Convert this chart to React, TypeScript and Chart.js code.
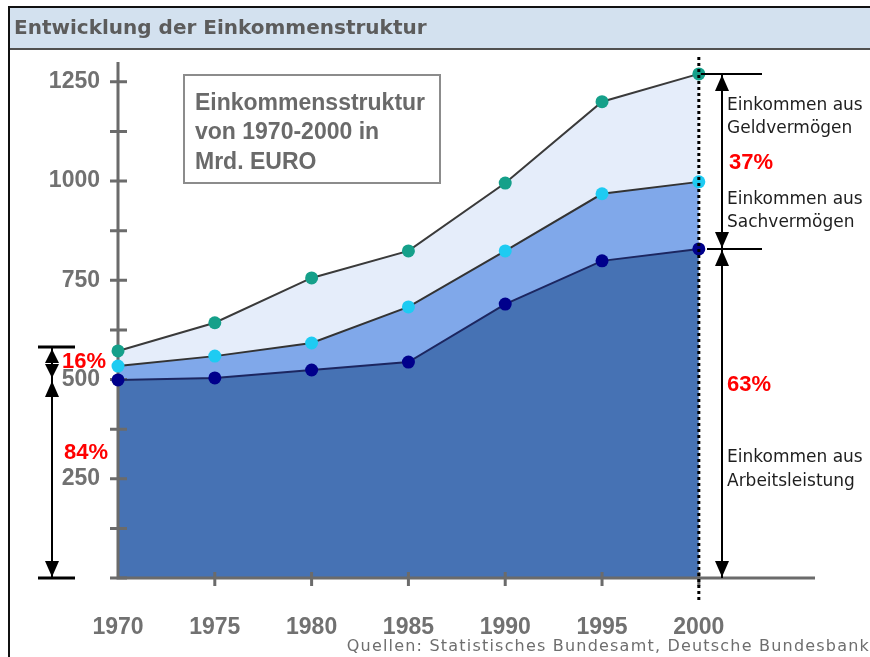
import { useEffect, useRef } from 'react';
import { Chart, registerables } from 'chart.js';

Chart.register(...registerables);

// ---- data (cumulative levels in Mrd. EURO) ----
const years = [1970, 1975, 1980, 1985, 1990, 1995, 2000];
const arbeitsleistung = [499, 504, 524, 544, 690, 799, 829];
const plusSachvermoegen = [534, 559, 592, 683, 824, 968, 998];
const plusGeldvermoegen = [572, 643, 756, 824, 995, 1200, 1270];
const yTickValues = [0, 250, 500, 750, 1000, 1250];
const yMinorStep = 125;
const leftShares = ['16%', '84%'];
const rightShares = ['37%', '63%'];
const titleText = 'Entwicklung der Einkommenstruktur';
const boxLines = ['Einkommensstruktur', 'von 1970-2000 in', 'Mrd. EURO'];
const sourceText = 'Quellen: Statistisches Bundesamt, Deutsche Bundesbank';
const rightLabels = [
  ['Einkommen aus', 'Geldvermögen'],
  ['Einkommen aus', 'Sachvermögen'],
  ['Einkommen aus', 'Arbeitsleistung'],
];

const AXIS_COLOR = '#6b6b6b';
const LABEL_COLOR = '#717171';

function arrowHead(ctx: CanvasRenderingContext2D, x: number, tipY: number, dir: number, h = 16, hw = 7) {
  ctx.beginPath();
  ctx.moveTo(x, tipY);
  ctx.lineTo(x - hw, tipY - dir * h);
  ctx.lineTo(x + hw, tipY - dir * h);
  ctx.closePath();
  ctx.fill();
}

const decorPlugin = {
  id: 'decor',
  beforeDraw(chart: any) {
    const ctx: CanvasRenderingContext2D = chart.ctx;
    ctx.save();
    ctx.fillStyle = '#ffffff';
    ctx.fillRect(0, 0, chart.width, chart.height);
    // title bar
    ctx.fillStyle = '#d3e1ef';
    ctx.fillRect(9, 8, chart.width - 9, 40);
    ctx.fillStyle = '#111111';
    ctx.fillRect(8, 6, chart.width - 8, 2);
    ctx.fillRect(8, 6, 2, chart.height - 6);
    ctx.fillStyle = '#505050';
    ctx.fillRect(10, 48, chart.width - 10, 2);
    ctx.fillStyle = '#5c5c5c';
    ctx.font = 'bold 20px "DejaVu Sans"';
    ctx.textAlign = 'left';
    ctx.textBaseline = 'middle';
    ctx.fillText(titleText, 14, 29);
    // info box
    ctx.strokeStyle = '#8c8c8c';
    ctx.lineWidth = 2;
    ctx.strokeRect(184, 75, 256, 108);
    ctx.fillStyle = '#6a6a6a';
    ctx.font = 'bold 23px "Liberation Sans", Arial, sans-serif';
    const ys = [104, 133, 163];
    boxLines.forEach((t, i) => ctx.fillText(t, 195, ys[i]));
    ctx.restore();
  },
  beforeDatasetsDraw(chart: any) {
    const ctx: CanvasRenderingContext2D = chart.ctx;
    const xs = chart.scales.x;
    const ysc = chart.scales.y;
    const { left, right, top, bottom } = chart.chartArea;
    ctx.save();
    ctx.strokeStyle = AXIS_COLOR;
    ctx.lineWidth = 3;
    ctx.beginPath();
    ctx.moveTo(left, top);
    ctx.lineTo(left, bottom + 1.5);
    ctx.moveTo(left - 1.5, bottom);
    ctx.lineTo(right, bottom);
    ctx.stroke();
    ctx.beginPath();
    for (let v = 0; v <= yTickValues[yTickValues.length - 1]; v += yMinorStep) {
      const py = ysc.getPixelForValue(v);
      ctx.moveTo(left - 8, py);
      ctx.lineTo(left + 9, py);
    }
    years.slice(1).forEach((yr) => {
      const px = xs.getPixelForValue(yr);
      ctx.moveTo(px, bottom - 6);
      ctx.lineTo(px, bottom + 8);
    });
    ctx.stroke();
    ctx.restore();
  },
  afterDatasetsDraw(chart: any) {
    const ctx: CanvasRenderingContext2D = chart.ctx;
    const xs = chart.scales.x;
    const px = xs.getPixelForValue(years[years.length - 1]);
    ctx.save();
    ctx.strokeStyle = '#000000';
    ctx.lineWidth = 3;
    ctx.setLineDash([3, 3]);
    ctx.beginPath();
    ctx.moveTo(px, 57);
    ctx.lineTo(px, 600);
    ctx.stroke();
    ctx.restore();
  },
  afterDraw(chart: any) {
    const ctx: CanvasRenderingContext2D = chart.ctx;
    const xs = chart.scales.x;
    const ysc = chart.scales.y;
    const last = years.length - 1;
    const x2000 = xs.getPixelForValue(years[last]);
    const yTopR = ysc.getPixelForValue(plusGeldvermoegen[last]);
    const yMidR = ysc.getPixelForValue(arbeitsleistung[last]);
    const yZero = ysc.getPixelForValue(0);
    const yTopL = ysc.getPixelForValue(plusGeldvermoegen[0]) - 4;
    const yMidL = ysc.getPixelForValue(arbeitsleistung[0]);
    ctx.save();
    ctx.strokeStyle = '#000000';
    ctx.fillStyle = '#000000';
    // right bracket
    const xr = 722;
    ctx.lineWidth = 2;
    ctx.beginPath();
    ctx.moveTo(x2000 + 2, yTopR);
    ctx.lineTo(762, yTopR);
    ctx.moveTo(707, yMidR);
    ctx.lineTo(762, yMidR);
    ctx.moveTo(xr, yTopR);
    ctx.lineTo(xr, yZero);
    ctx.stroke();
    arrowHead(ctx, xr, yTopR + 1, -1);
    arrowHead(ctx, xr, yMidR - 1, 1);
    arrowHead(ctx, xr, yMidR + 1, -1);
    arrowHead(ctx, xr, yZero - 1, 1);
    // left bracket
    const xl = 52;
    ctx.lineWidth = 3;
    ctx.beginPath();
    ctx.moveTo(38, yTopL);
    ctx.lineTo(75, yTopL);
    ctx.moveTo(38, yZero);
    ctx.lineTo(75, yZero);
    ctx.stroke();
    ctx.lineWidth = 2;
    ctx.beginPath();
    ctx.moveTo(xl, yTopL);
    ctx.lineTo(xl, yZero);
    ctx.stroke();
    arrowHead(ctx, xl, yTopL + 2, -1, 14);
    arrowHead(ctx, xl, yMidL - 2, 1, 14);
    arrowHead(ctx, xl, yMidL + 1, -1, 16);
    arrowHead(ctx, xl, yZero - 1, 1, 16);
    // percentages
    ctx.fillStyle = '#ff0000';
    ctx.font = 'bold 22px "Liberation Sans", Arial, sans-serif';
    ctx.textAlign = 'left';
    ctx.textBaseline = 'middle';
    ctx.fillText(leftShares[0], 62, 362);
    ctx.fillText(leftShares[1], 64, 453);
    ctx.fillText(rightShares[0], 729, 163);
    ctx.fillText(rightShares[1], 727, 385);
    // right labels
    ctx.fillStyle = '#1e1e1e';
    ctx.font = '17px "DejaVu Sans", sans-serif';
    const labelY = [[106, 129], [200, 223], [458, 482]];
    rightLabels.forEach((pair, i) => {
      pair.forEach((t, j) => ctx.fillText(t, 727, labelY[i][j]));
    });
    // source
    ctx.fillStyle = '#6e6e6e';
    ctx.font = '16px "DejaVu Sans", sans-serif';
    (ctx as any).letterSpacing = '1.2px';
    ctx.textAlign = 'right';
    ctx.fillText(sourceText, 870, 647);
    ctx.restore();
  },
};

export default function App() {
  const canvasRef = useRef<HTMLCanvasElement | null>(null);

  useEffect(() => {
    const canvas = canvasRef.current;
    if (!canvas) return;
    const toPoints = (arr: number[]) => years.map((yr, i) => ({ x: yr, y: arr[i] }));
    const chart = new Chart(canvas, {
      type: 'line',
      data: {
        datasets: [
          {
            label: 'Einkommen aus Arbeitsleistung',
            data: toPoints(arbeitsleistung),
            borderColor: '#1c2660',
            borderWidth: 2,
            backgroundColor: '#4672b4',
            fill: 'origin',
            pointRadius: 6.5,
            pointBackgroundColor: '#00008b',
            pointBorderWidth: 0,
            tension: 0,
            clip: false as any,
          },
          {
            label: 'Einkommen aus Sachvermögen',
            data: toPoints(plusSachvermoegen),
            borderColor: '#333333',
            borderWidth: 2,
            backgroundColor: '#80a8ea',
            fill: '-1',
            pointRadius: 6.5,
            pointBackgroundColor: '#1ecbf2',
            pointBorderWidth: 0,
            tension: 0,
            clip: false as any,
          },
          {
            label: 'Einkommen aus Geldvermögen',
            data: toPoints(plusGeldvermoegen),
            borderColor: '#3a3a3a',
            borderWidth: 2,
            backgroundColor: '#e5edfa',
            fill: '-1',
            pointRadius: 6.5,
            pointBackgroundColor: '#15a08a',
            pointBorderWidth: 0,
            tension: 0,
            clip: false as any,
          },
        ],
      },
      options: {
        animation: false,
        responsive: false,
        maintainAspectRatio: false,
        devicePixelRatio: 1,
        layout: { padding: { top: 62, right: 55, left: 0, bottom: 0 } },
        plugins: {
          legend: { display: false },
          tooltip: { enabled: false },
          filler: { drawTime: 'beforeDatasetsDraw' } as any,
        },
        scales: {
          x: {
            type: 'linear',
            min: 1970,
            max: 2006,
            grid: { display: false, drawTicks: false },
            border: { display: false },
            afterFit: (s: any) => { s.height = 79; },
            afterBuildTicks: (s: any) => { s.ticks = years.map((v) => ({ value: v })); },
            ticks: {
              padding: 36,
              color: LABEL_COLOR,
              font: { family: '"Liberation Sans", Arial, sans-serif', size: 23, weight: 'bold' },
              callback: (v: any) => String(v),
              maxRotation: 0,
              autoSkip: false,
            },
          },
          y: {
            type: 'linear',
            min: 0,
            max: 1300,
            grid: { display: false, drawTicks: false },
            border: { display: false },
            afterFit: (s: any) => { s.width = 118; },
            afterBuildTicks: (s: any) => { s.ticks = yTickValues.map((v) => ({ value: v })); },
            ticks: {
              padding: 18,
              color: LABEL_COLOR,
              font: { family: '"Liberation Sans", Arial, sans-serif', size: 23, weight: 'bold' },
              callback: (v: any) => (v === 0 ? '' : String(v)),
            },
          },
        },
      },
      plugins: [decorPlugin as any],
    });
    return () => chart.destroy();
  }, []);

  return (
    <div style={{ position: 'absolute', left: 0, top: 0, width: 870, height: 657 }}>
      <canvas ref={canvasRef} width={870} height={657} style={{ width: 870, height: 657, display: 'block' }} />
    </div>
  );
}
